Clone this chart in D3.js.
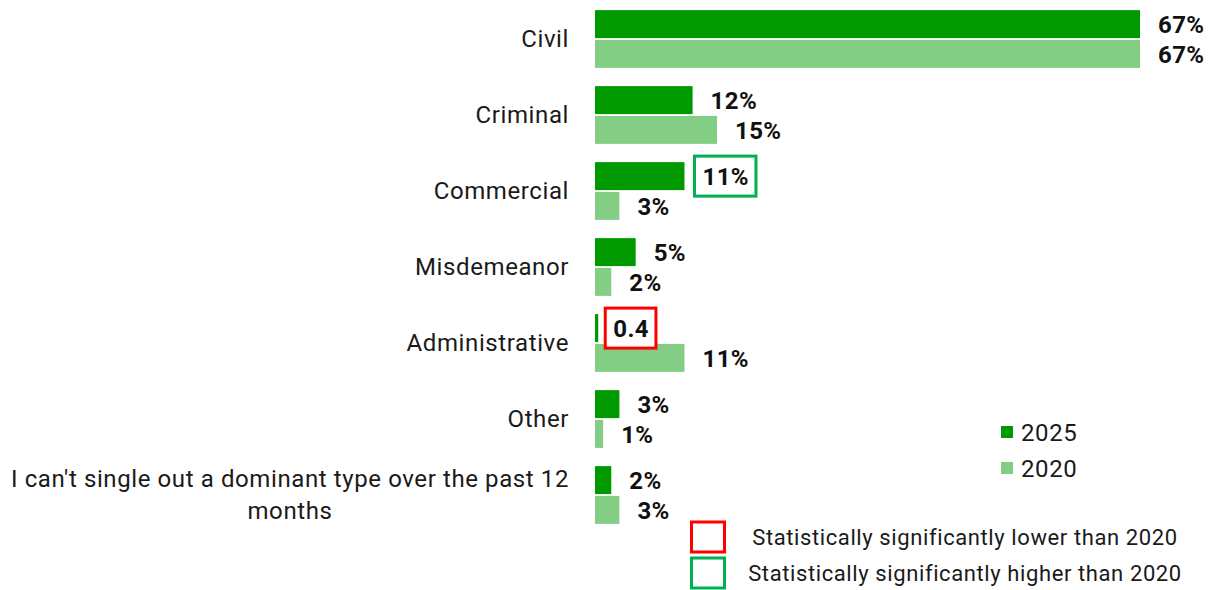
<!DOCTYPE html>
<html>
<head>
<meta charset="utf-8">
<script src="https://cdn.jsdelivr.net/npm/d3@7"></script>
<style>
  html, body { margin: 0; padding: 0; background: #fff; }
  svg { display: block; font-family: Roboto, "Noto Sans", sans-serif; }
</style>
</head>
<body>
<svg id="chart" width="1214" height="590"></svg>
<script>
// Dominant case types, 2025 vs 2020 (% of respondents)
const categories = [
  "Civil",
  "Criminal",
  "Commercial",
  "Misdemeanor",
  "Administrative",
  "Other",
  "I can't single out a dominant type over the past 12 months"
];
const years = ["2025", "2020"];
const values2025 = [67, 12, 11, 5, 0.4, 3, 2];
const values2020 = [67, 15, 3, 2, 11, 1, 3];
// Significance of the 2025 figure relative to 2020
const significance2025 = [null, null, "higher", null, "lower", null, null];
const significanceLegend = [
  { key: "lower", text: "Statistically significantly lower than 2020" },
  { key: "higher", text: "Statistically significantly higher than 2020" }
];

const colors = { "2025": "#009900", "2020": "#84cd84" };
const sigColors = { lower: "#ff0000", higher: "#00b050" };

const svg = d3.select("#chart");

const x = d3.scaleLinear().domain([0, 67]).range([595, 1140]);
const y = d3.scaleBand().domain(categories).range([1, 533])
  .paddingInner(0.24).paddingOuter(0.12);
const ySub = d3.scaleBand().domain(years).range([0, y.bandwidth()]).paddingInner(0.06);

const fmt = v => Number.isInteger(v) ? v + "%" : String(v);

const rows = categories.map((c, i) => ({
  category: c,
  bars: [
    { year: "2025", value: values2025[i], sig: significance2025[i] },
    { year: "2020", value: values2020[i], sig: null }
  ]
}));

const catFont = { size: 24, spacing: "0.6px", color: "#1a1a1a" };

// Category labels (right-aligned, long one wrapped and centred)
const labelX = 569;
const catG = svg.append("g")
  .attr("font-size", catFont.size)
  .attr("letter-spacing", catFont.spacing)
  .attr("fill", catFont.color);
rows.forEach(r => {
  const cy = y(r.category) + y.bandwidth() / 2;
  if (r.category.length > 40) {
    const words = r.category.split(" ");
    const line1 = words.slice(0, -1).join(" ");
    const line2 = words[words.length - 1];
    const t1 = catG.append("text")
      .attr("x", labelX).attr("y", cy - 16)
      .attr("dy", "0.35em").attr("text-anchor", "end").text(line1);
    const bb = t1.node().getBBox();
    catG.append("text")
      .attr("x", bb.x + bb.width / 2).attr("y", cy + 16)
      .attr("dy", "0.35em").attr("text-anchor", "middle").text(line2);
  } else {
    catG.append("text")
      .attr("x", labelX).attr("y", cy)
      .attr("dy", "0.35em").attr("text-anchor", "end").text(r.category);
  }
});

// Bars and value labels
const groups = svg.append("g").selectAll("g.row").data(rows).join("g")
  .attr("class", "row")
  .attr("transform", d => `translate(0,${y(d.category)})`);

groups.selectAll("rect.bar").data(d => d.bars).join("rect")
  .attr("class", "bar")
  .attr("x", x(0))
  .attr("y", d => ySub(d.year))
  .attr("width", d => x(d.value) - x(0))
  .attr("height", ySub.bandwidth())
  .attr("fill", d => colors[d.year]);

groups.each(function(row) {
  const g = d3.select(this);
  row.bars.forEach(b => {
    const cy = ySub(b.year) + ySub.bandwidth() / 2;
    const t = g.append("text")
      .attr("x", x(b.value) + (b.value < 1 ? 15 : 18))
      .attr("y", cy)
      .attr("dy", "0.36em")
      .attr("font-size", 24)
      .attr("letter-spacing", "0.4px")
      .attr("font-weight", "bold")
      .attr("fill", "#111")
      .text(fmt(b.value));
    if (b.sig) {
      const bb = t.node().getBBox();
      g.insert("rect", "text")
        .attr("x", bb.x - 8)
        .attr("y", cy - 20)
        .attr("width", bb.width + 15)
        .attr("height", 40)
        .attr("fill", "#fff")
        .attr("stroke", sigColors[b.sig])
        .attr("stroke-width", 3);
    }
  });
});

// Series legend
const legend = svg.append("g").attr("transform", "translate(1001,432)");
years.forEach((yr, i) => {
  const lg = legend.append("g").attr("transform", `translate(0,${i * 36})`);
  lg.append("rect").attr("x", 0).attr("y", -6).attr("width", 12).attr("height", 12)
    .attr("fill", colors[yr]);
  lg.append("text").attr("x", 20).attr("y", 0).attr("dy", "0.36em")
    .attr("font-size", 24).attr("letter-spacing", "0.6px")
    .attr("fill", "#1a1a1a").text(yr);
});

// Significance legend
const sigLegend = svg.append("g");
significanceLegend.forEach((s, i) => {
  const cy = 537 + i * 36;
  sigLegend.append("rect")
    .attr("x", 691.5).attr("y", cy - 15).attr("width", 33).attr("height", 30)
    .attr("fill", "none").attr("stroke", sigColors[s.key]).attr("stroke-width", 3);
  sigLegend.append("text")
    .attr("x", 965).attr("y", cy).attr("dy", "0.35em")
    .attr("text-anchor", "middle")
    .attr("font-size", 22).attr("letter-spacing", "0.6px")
    .attr("fill", "#1a1a1a").text(s.text);
});
</script>
</body>
</html>
